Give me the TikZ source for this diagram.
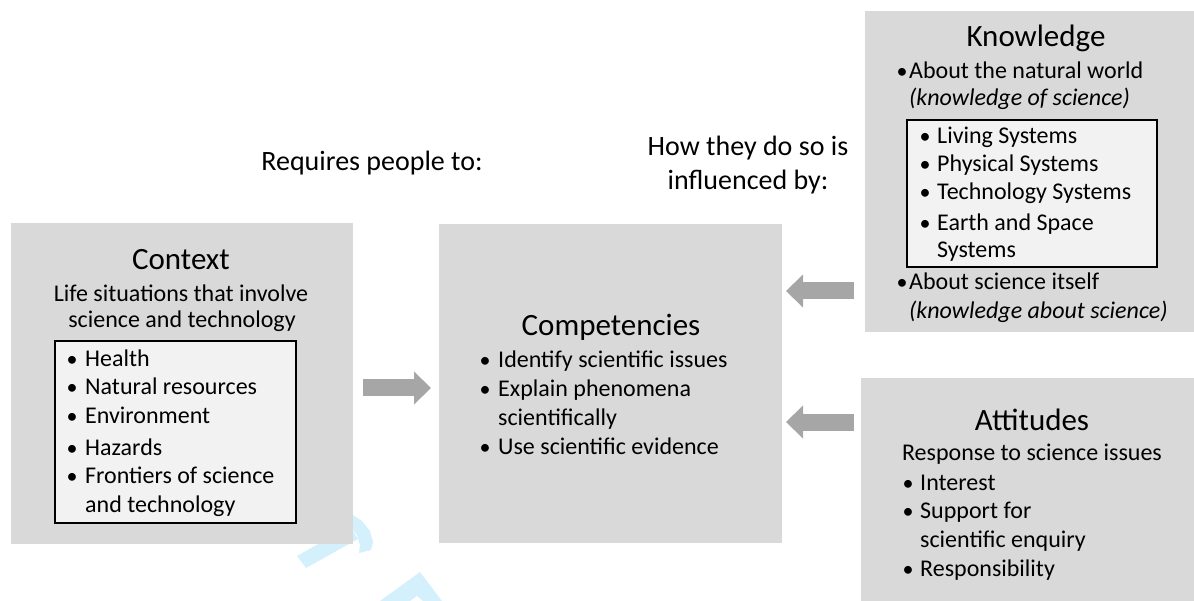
\documentclass[tikz,border=0pt]{standalone}
\usepackage{fontspec}
\setmainfont{Carlito}
\usetikzlibrary{arrows.meta,calc}
\definecolor{boxgray}{HTML}{D9D9D9}
\definecolor{innergray}{HTML}{F2F2F2}
\definecolor{arrgray}{HTML}{A6A6A6}
\definecolor{wmcyan}{HTML}{D4F0FC}
% \bitem{name}{bullet x}{text x}{baseline y}{text}
\newcommand{\bitem}[5]{%
  \node[bdot] (#1-b) at (#2,#4) {•};
  \node[itm] (#1) at (#3,#4) {#5};}
\begin{document}
\begin{tikzpicture}[x=1pt,y=-1pt,
  panel/.style={fill=boxgray, draw=none, anchor=north west, inner sep=0pt, outer sep=0pt},
  listbox/.style={fill=innergray, draw=black, line width=1.3pt, anchor=north west, inner sep=0pt, outer sep=0pt},
  ttl/.style={font=\fontsize{31}{37}\selectfont, anchor=base, inner sep=0pt},
  txt/.style={font=\fontsize{24}{29}\selectfont, anchor=base, inner sep=0pt},
  itm/.style={font=\fontsize{24}{29}\selectfont, anchor=base west, inner sep=0pt},
  bdot/.style={font=\fontsize{22}{29}\selectfont, anchor=base, inner sep=0pt},
  lbl/.style={font=\fontsize{28}{34}\selectfont, anchor=base, inner sep=0pt},
  bigarrow/.style={draw=arrgray, line width=17pt, -{Triangle[length=17pt,width=33pt,line width=0pt]}}
]
\useasboundingbox (0,0) rectangle (1194,601);
% watermark fragments
\fill[wmcyan] (297,556) -- (306,568) -- (358,539) -- (350,526) -- cycle;
\fill[wmcyan] (353,515) -- (362,521) -- (370,531) -- (373,542) -- (371,550) -- (359,553) -- (360,545) -- (357,535) -- (353,530) -- cycle;
\fill[wmcyan] (380,601) -- (420,572) -- (442,601) -- (423,601) -- (417,596) -- (410,601) -- cycle;
% panels
\node[panel, minimum width=342pt, minimum height=321pt] (ctx) at (11,223) {};
\node[panel, minimum width=343pt, minimum height=319pt] (comp) at (439,224) {};
\node[panel, minimum width=329pt, minimum height=321pt] (kn) at (865,11) {};
\node[panel, minimum width=333pt, minimum height=223pt] (att) at (861,378) {};
\node[listbox, minimum width=241pt, minimum height=182pt] (ctxlist) at (55,341) {};
\node[listbox, minimum width=250pt, minimum height=147pt] (knlist) at (907,120) {};
% labels
\node[lbl] (req) at (372,171) {Requires people to:};
\node[lbl] (how1) at (748,156) {How they do so is};
\node[lbl] (how2) at (748,190) {influenced by:};
% Context
\node[ttl] (ctxt) at (181,270) {Context};
\node[txt] (ctxs1) at (181,302) {Life situations that involve};
\node[txt] (ctxs2) at (182,328) {science and technology};
\bitem{c1}{72}{85}{367}{Health}
\bitem{c2}{72}{85}{395}{Natural resources}
\bitem{c3}{72}{85}{423}{Environment}
\bitem{c4}{72}{85}{455}{Hazards}
\bitem{c5}{72}{85}{483}{Frontiers of science}
\node[itm] (c6) at (85,512) {and technology};
% Competencies
\node[ttl] (compt) at (611,336) {Competencies};
\bitem{p1}{485}{498}{368}{Identify scientific issues}
\bitem{p2}{485}{498}{397}{Explain phenomena}
\node[itm] (p3) at (498,425) {scientifically};
\bitem{p4}{485}{498}{454}{Use scientific evidence}
% Knowledge
\node[ttl] (knt) at (1036,47) {Knowledge};
\bitem{k1}{902}{909}{79}{About the natural world}
\node[itm] (k2) at (909,106) {\itshape (knowledge of science)};
\bitem{k3}{925}{937}{144}{Living Systems}
\bitem{k4}{925}{937}{172}{Physical Systems}
\bitem{k5}{925}{937}{200}{Technology Systems}
\bitem{k6}{925}{937}{231}{Earth and Space}
\node[itm] (k7) at (937,258) {Systems};
\bitem{k8}{902}{909}{290}{About science itself}
\node[itm] (k9) at (909,319) {\itshape (knowledge about science)};
% Attitudes
\node[ttl] (attt) at (1032,430) {Attitudes};
\node[txt] (atts) at (1032,460) {Response to science issues};
\bitem{a1}{908}{920}{490}{Interest}
\bitem{a2}{908}{920}{518}{Support for}
\node[itm] (a3) at (920,547) {scientific enquiry};
\bitem{a4}{908}{920}{576}{Responsibility}
% arrows
\draw[bigarrow] ($(ctx.east)+(10,4.5)$) -- ($(comp.west)+(-8,4.5)$);
\draw[bigarrow] ($(kn.west |- comp.east)+(-11,-92.5)$) -- ($(comp.east)+(4,-92.5)$);
\draw[bigarrow] ($(att.west |- comp.east)+(-7,38.5)$) -- ($(comp.east)+(4,38.5)$);
\end{tikzpicture}
\end{document}
